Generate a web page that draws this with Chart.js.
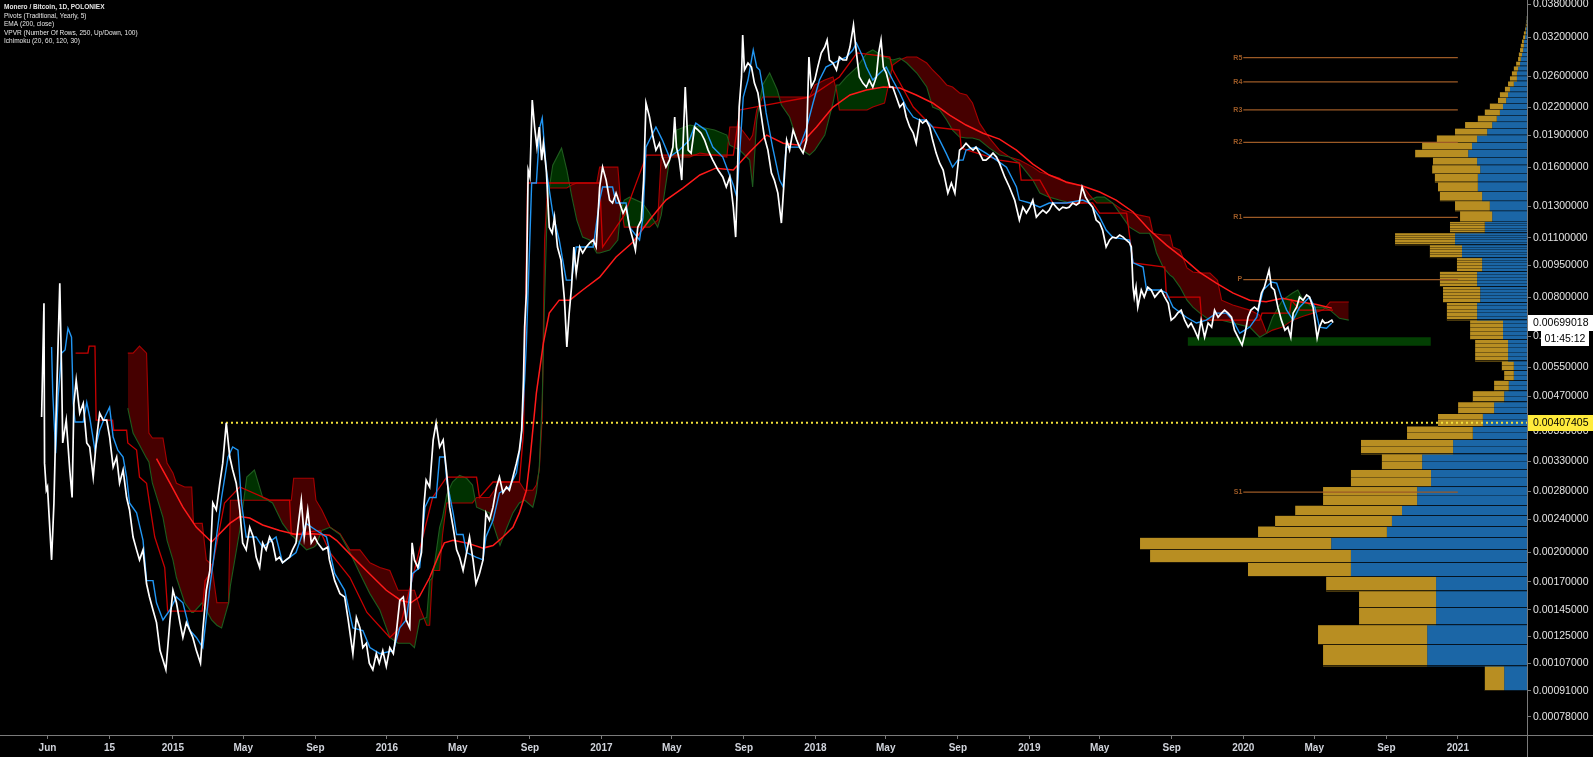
<!DOCTYPE html>
<html><head><meta charset="utf-8">
<script src="https://cdn.jsdelivr.net/npm/chart.js@4/dist/chart.umd.min.js"></script>
<style>html,body{margin:0;padding:0;background:#000;overflow:hidden}canvas{display:block}</style>
</head><body>
<canvas id="c" width="1593" height="757"></canvas>
<script>
// ---------- DATA ----------
const xMin = '2014-03-12', xMax = '2021-04-29';
const xTickDates = ['2014-06-01','2014-09-15','2015-01-01','2015-05-01','2015-09-01','2016-01-01','2016-05-01','2016-09-01','2017-01-01','2017-05-01','2017-09-01','2018-01-01','2018-05-01','2018-09-01','2019-01-01','2019-05-01','2019-09-01','2020-01-01','2020-05-01','2020-09-01','2021-01-01'];
const xTickLabels = ['Jun','15','2015','May','Sep','2016','May','Sep','2017','May','Sep','2018','May','Sep','2019','May','Sep','2020','May','Sep','2021'];
const yTicks = [0.038,0.032,0.026,0.022,0.019,0.016,0.013,0.011,0.0095,0.008,0.0065,0.0055,0.0047,0.0039,0.0033,0.0028,0.0024,0.002,0.0017,0.00145,0.00125,0.00107,0.00091,0.00078];

const closeData = [
['2014-05-22',.00420],['2014-05-26',.00775],['2014-05-27',.00327],['2014-05-30',.00282],['2014-06-01',.00287],['2014-06-08',.00192],['2014-06-12',.00263],['2014-06-15',.00391],['2014-06-22',.00863],['2014-06-25',.00541],['2014-06-27',.00365],['2014-07-03',.00413],['2014-07-09',.00315],['2014-07-13',.00271],['2014-07-16',.00452],['2014-07-20',.00513],['2014-07-26',.00429],['2014-08-01',.00452],['2014-08-07',.00365],['2014-08-12',.00357],['2014-08-18',.00303],['2014-08-24',.00377],['2014-08-29',.00429],['2014-09-04',.00413],['2014-09-10',.00413],['2014-09-15',.00377],['2014-09-21',.00320],['2014-09-27',.00338],['2014-10-02',.00293],['2014-10-08',.00315],['2014-10-14',.00271],['2014-10-19',.00253],['2014-10-25',.00218],['2014-10-31',.00203],['2014-11-05',.00192],['2014-11-11',.00203],['2014-11-17',.00168],['2014-11-22',.00156],['2014-11-28',.00145],['2014-12-04',.00135],['2014-12-10',.00115],['2014-12-15',.00109],['2014-12-20',.00103],['2014-12-27',.00137],
['2015-01-01',.00162],['2015-01-07',.00151],['2015-01-13',.00135],['2015-01-18',.00124],['2015-01-24',.00135],['2015-01-30',.00129],['2015-02-04',.00124],['2015-02-10',.00115],['2015-02-17',.00107],['2015-02-21',.00129],['2015-02-27',.00162],['2015-03-05',.00181],['2015-03-10',.00263],['2015-03-16',.00253],['2015-03-22',.00293],['2015-03-27',.00327],['2015-04-02',.00407],['2015-04-08',.00338],['2015-04-13',.00315],['2015-04-19',.00293],['2015-04-25',.00253],['2015-04-30',.00211],['2015-05-06',.00203],['2015-05-12',.00230],['2015-05-18',.00218],['2015-05-23',.00195],['2015-05-29',.00184],['2015-06-03',.00211],['2015-06-09',.00203],['2015-06-15',.00218],['2015-06-20',.00211],['2015-06-26',.00192],['2015-07-02',.00195],['2015-07-07',.00189],['2015-07-13',.00192],['2015-07-19',.00195],['2015-07-24',.00203],['2015-07-30',.00211],['2015-08-08',.00267],['2015-08-13',.00218],['2015-08-19',.00253],['2015-08-25',.00211],['2015-08-31',.00218],['2015-09-05',.00211],['2015-09-14',.00203],['2015-09-22',.00206],['2015-09-25',.00192],['2015-10-04',.00171],['2015-10-13',.00159],['2015-10-21',.00156],['2015-10-27',.00137],['2015-11-04',.00113],['2015-11-10',.00139],['2015-11-16',.00131],['2015-11-21',.00117],['2015-11-27',.00120],['2015-12-02',.00107],['2015-12-08',.00103],['2015-12-14',.00113],['2015-12-19',.00107],['2015-12-25',.00115],['2015-12-31',.00105],
['2016-01-06',.00117],['2016-01-12',.00113],['2016-01-17',.00127],['2016-01-23',.00153],['2016-01-29',.00156],['2016-02-03',.00137],['2016-02-09',.00131],['2016-02-13',.00211],['2016-02-17',.00192],['2016-02-23',.00184],['2016-02-29',.00200],['2016-03-04',.00257],['2016-03-08',.00298],['2016-03-14',.00287],['2016-03-20',.00371],['2016-03-25',.00407],['2016-03-31',.00357],['2016-04-06',.00371],['2016-04-12',.00310],['2016-04-17',.00257],['2016-04-23',.00230],['2016-04-29',.00203],['2016-05-04',.00195],['2016-05-10',.00181],['2016-05-16',.00200],['2016-05-21',.00218],['2016-05-27',.00192],['2016-06-01',.00168],['2016-06-07',.00178],['2016-06-13',.00192],['2016-06-18',.00249],['2016-06-24',.00239],['2016-06-30',.00257],['2016-07-06',.00287],['2016-07-11',.00303],['2016-07-17',.00278],['2016-07-23',.00287],['2016-07-28',.00282],['2016-08-03',.00303],['2016-08-09',.00327],['2016-08-14',.00351],['2016-08-18',.00391],['2016-08-21',.00513],['2016-08-23',.00682],['2016-08-26',.00819],['2016-08-29',.01578],['2016-09-01',.01521],['2016-09-05',.02290],['2016-09-09',.01984],['2016-09-13',.01783],['2016-09-17',.01984],['2016-09-21',.01664],['2016-09-24',.01820],['2016-09-29',.01578],['2016-10-04',.01164],['2016-10-09',.01127],['2016-10-13',.01228],['2016-10-18',.01047],['2016-10-24',.00977],['2016-10-30',.00788],['2016-11-03',.00613],['2016-11-07',.00735],['2016-11-11',.00845],['2016-11-15',.01047],['2016-11-19',.00911],['2016-11-25',.01047],['2016-11-30',.01014],['2016-12-06',.01047],['2016-12-12',.01070],['2016-12-18',.01087],['2016-12-23',.01047],['2016-12-29',.01442],
['2017-01-03',.01603],['2017-01-09',.01496],['2017-01-15',.01345],['2017-01-20',.01324],['2017-01-26',.01396],['2017-02-01',.01324],['2017-02-07',.01255],['2017-02-12',.01295],['2017-02-18',.01164],['2017-02-24',.01087],['2017-02-28',.01030],['2017-03-04',.01164],['2017-03-10',.01209],['2017-03-14',.01496],['2017-03-18',.02254],['2017-03-24',.02092],['2017-03-30',.01881],['2017-04-04',.01755],['2017-04-10',.01820],['2017-04-15',.01691],['2017-04-21',.01603],['2017-04-27',.01664],['2017-05-03',.01783],['2017-05-06',.02092],['2017-05-09',.01783],['2017-05-14',.01664],['2017-05-18',.01496],['2017-05-24',.02454],['2017-05-29',.01755],['2017-06-03',.01727],['2017-06-09',.01984],['2017-06-15',.01952],['2017-06-20',.01920],['2017-06-26',.01851],['2017-07-02',.01755],['2017-07-10',.01664],['2017-07-19',.01578],['2017-07-27',.01521],['2017-08-02',.01442],['2017-08-08',.01521],['2017-08-14',.01295],['2017-08-18',.01104],['2017-08-20',.01345],['2017-08-24',.02206],['2017-08-28',.02589],['2017-08-30',.03232],['2017-09-02',.02686],['2017-09-08',.02787],['2017-09-14',.02728],['2017-09-19',.02506],['2017-09-25',.02377],['2017-09-30',.02138],['2017-10-06',.01881],['2017-10-12',.01755],['2017-10-18',.01554],['2017-10-23',.01496],['2017-10-29',.01396],['2017-11-04',.01190],['2017-11-08',.01442],['2017-11-13',.01851],['2017-11-18',.01755],['2017-11-24',.01952],['2017-11-30',.01851],['2017-12-05',.01783],['2017-12-11',.01727],['2017-12-17',.01851],['2017-12-21',.02877],['2017-12-25',.02454],['2017-12-31',.02547],
['2018-01-05',.02728],['2018-01-11',.02940],['2018-01-17',.03034],['2018-01-21',.03149],['2018-01-25',.02832],['2018-01-31',.02787],['2018-02-06',.02686],['2018-02-11',.02877],['2018-02-17',.02832],['2018-02-23',.02832],['2018-03-01',.03034],['2018-03-07',.03410],['2018-03-12',.02940],['2018-03-17',.02589],['2018-03-23',.02506],['2018-03-29',.02454],['2018-04-03',.02547],['2018-04-09',.02454],['2018-04-15',.02589],['2018-04-19',.02940],['2018-04-23',.03149],['2018-04-27',.02728],['2018-05-02',.02643],['2018-05-08',.02454],['2018-05-13',.02454],['2018-05-19',.02327],['2018-05-25',.02206],['2018-05-31',.02254],['2018-06-05',.02092],['2018-06-11',.01984],['2018-06-17',.01920],['2018-06-22',.01820],['2018-06-28',.02059],['2018-07-03',.02025],['2018-07-09',.02059],['2018-07-15',.01984],['2018-07-20',.01851],['2018-07-26',.01727],['2018-08-01',.01637],['2018-08-07',.01578],['2018-08-15',.01396],['2018-08-21',.01473],['2018-08-27',.01396],['2018-08-30',.01521],['2018-09-04',.01755],['2018-09-10',.01783],['2018-09-15',.01820],['2018-09-21',.01783],['2018-09-27',.01755],['2018-10-02',.01783],['2018-10-08',.01727],['2018-10-14',.01664],['2018-10-19',.01664],['2018-10-25',.01691],['2018-10-31',.01727],['2018-11-06',.01691],['2018-11-11',.01637],['2018-11-20',.01521],['2018-11-28',.01442],['2018-12-07',.01345],['2018-12-15',.01209],['2018-12-21',.01295],['2018-12-27',.01255],
['2019-01-02',.01295],['2019-01-07',.01345],['2019-01-13',.01228],['2019-01-19',.01255],['2019-01-24',.01275],['2019-01-30',.01255],['2019-02-04',.01275],['2019-02-10',.01324],['2019-02-16',.01295],['2019-02-21',.01275],['2019-02-27',.01295],['2019-03-05',.01288],['2019-03-10',.01295],['2019-03-16',.01324],['2019-03-22',.01310],['2019-03-27',.01324],['2019-04-01',.01442],['2019-04-07',.01366],['2019-04-13',.01324],['2019-04-19',.01295],['2019-04-25',.01209],['2019-05-01',.01190],['2019-05-06',.01146],['2019-05-12',.01047],['2019-05-18',.01087],['2019-05-23',.01104],['2019-05-29',.01098],['2019-06-04',.01116],['2019-06-10',.01104],['2019-06-15',.01087],['2019-06-21',.01070],['2019-06-24',.01047],['2019-06-27',.00845],['2019-06-29',.00801],['2019-07-02',.00845],['2019-07-05',.00759],['2019-07-11',.00832],['2019-07-16',.00801],['2019-07-22',.00845],['2019-07-28',.00832],['2019-08-03',.00801],['2019-08-09',.00819],['2019-08-14',.00832],['2019-08-20',.00801],['2019-08-26',.00775],['2019-08-31',.00708],['2019-09-06',.00719],['2019-09-11',.00735],['2019-09-17',.00747],['2019-09-23',.00708],['2019-09-29',.00682],['2019-10-04',.00697],['2019-10-10',.00671],['2019-10-16',.00643],['2019-10-21',.00708],['2019-10-27',.00646],['2019-11-02',.00697],['2019-11-08',.00682],['2019-11-13',.00747],['2019-11-19',.00719],['2019-11-25',.00735],['2019-11-30',.00747],['2019-12-06',.00735],['2019-12-12',.00719],['2019-12-17',.00671],['2019-12-23',.00646],['2019-12-30',.00619],
['2020-01-04',.00660],['2020-01-09',.00719],['2020-01-14',.00747],['2020-01-20',.00759],['2020-01-26',.00747],['2020-02-01',.00819],['2020-02-06',.00845],['2020-02-14',.00926],['2020-02-18',.00845],['2020-02-23',.00832],['2020-02-29',.00759],['2020-03-06',.00708],['2020-03-12',.00671],['2020-03-17',.00682],['2020-03-22',.00646],['2020-03-26',.00735],['2020-04-01',.00759],['2020-04-06',.00801],['2020-04-12',.00788],['2020-04-18',.00810],['2020-04-23',.00801],['2020-04-29',.00759],['2020-05-02',.00708],['2020-05-06',.00643],['2020-05-10',.00682],['2020-05-15',.00708],['2020-05-19',.00697],['2020-05-25',.00700],['2020-05-31',.00708],['2020-06-02',.00699018]
];

const conversionData = [
['2014-06-08',.00613],['2014-06-10',.00478],['2014-06-15',.00345],['2014-06-19',.00467],['2014-06-25',.00593],['2014-07-01',.00603],['2014-07-06',.00678],['2014-07-12',.00646],['2014-07-15',.00452],['2014-07-18',.00409],['2014-08-01',.00409],['2014-08-07',.00455],['2014-08-12',.00420],['2014-08-21',.00351],['2014-08-29',.00391],['2014-09-07',.00420],['2014-09-15',.00443],['2014-09-21',.00377],['2014-09-29',.00351],['2014-10-08',.00338],['2014-10-14',.00303],['2014-10-19',.00263],['2014-10-31',.00249],['2014-11-11',.00214],['2014-11-17',.00171],['2014-11-28',.00171],['2014-12-04',.00151],['2014-12-15',.00137],['2014-12-27',.00145],['2015-01-07',.00156],['2015-01-18',.00151],['2015-01-30',.00129],['2015-02-10',.00124],['2015-02-21',.00117],['2015-03-05',.00165],['2015-03-14',.00206],['2015-03-25',.00271],['2015-04-05',.00338],['2015-04-13',.00357],['2015-04-22',.00351],['2015-04-28',.00263],['2015-05-06',.00218],['2015-05-23',.00218],['2015-06-03',.00206],['2015-06-26',.00218],['2015-07-07',.00189],['2015-07-30',.00200],['2015-08-16',.00235],['2015-09-03',.00226],['2015-09-20',.00218],['2015-10-04',.00178],['2015-10-21',.00162],['2015-11-04',.00131],['2015-11-21',.00129],['2015-12-03',.00117],['2015-12-20',.00113],['2016-01-12',.00115],['2016-01-23',.00131],['2016-02-03',.00137],['2016-02-14',.00178],['2016-02-26',.00184],['2016-03-06',.00257],['2016-03-14',.00271],['2016-03-25',.00271],['2016-03-31',.00338],['2016-04-09',.00338],['2016-04-12',.00298],['2016-04-23',.00249],['2016-04-29',.00221],['2016-05-10',.00221],['2016-05-16',.00200],['2016-06-01',.00195],['2016-06-13',.00192],['2016-06-18',.00218],['2016-06-30',.00239],['2016-07-11',.00278],['2016-07-28',.00287],['2016-08-09',.00310],['2016-08-17',.00371],['2016-08-23',.00513],['2016-08-26',.00626],['2016-09-01',.01104],['2016-09-04',.01473],['2016-09-12',.01473],['2016-09-18',.01984],['2016-09-22',.02081],['2016-09-29',.01578],['2016-10-10',.01255],['2016-10-21',.01087],['2016-11-02',.00877],['2016-11-11',.00877],['2016-11-19',.01047],['2016-12-18',.01047],['2016-12-29',.01345],['2017-01-03',.01442],['2017-01-20',.01442],['2017-01-26',.01324],['2017-02-12',.01324],['2017-02-18',.01164],['2017-03-07',.01087],['2017-03-13',.01228],['2017-03-18',.01783],['2017-04-04',.01984],['2017-04-15',.01851],['2017-04-27',.01691],['2017-05-14',.01755],['2017-05-31',.01851],['2017-06-11',.02025],['2017-06-28',.01952],['2017-07-10',.01783],['2017-07-27',.01691],['2017-08-14',.01457],['2017-08-20',.01366],['2017-08-31',.02327],['2017-09-08',.02547],['2017-09-17',.02987],['2017-09-23',.02728],['2017-09-28',.02686],['2017-10-03',.02454],['2017-10-09',.02138],['2017-10-20',.01783],['2017-11-01',.01496],['2017-11-07',.01442],['2017-11-12',.01783],['2017-12-05',.01783],['2017-12-16',.01952],['2017-12-28',.02254],['2018-01-08',.02547],['2018-01-19',.02728],['2018-02-11',.02832],['2018-02-23',.02877],['2018-03-06',.02987],['2018-03-12',.03099],['2018-03-23',.02877],['2018-03-29',.02728],['2018-04-09',.02547],['2018-04-21',.02643],['2018-05-02',.02728],['2018-05-13',.02547],['2018-05-25',.02377],['2018-06-05',.02206],['2018-06-17',.02092],['2018-06-28',.02059],['2018-07-09',.02059],['2018-07-20',.01984],['2018-08-01',.01851],['2018-08-12',.01727],['2018-08-23',.01603],['2018-09-01',.01664],['2018-09-10',.01664],['2018-09-15',.01755],['2018-10-02',.01783],['2018-10-19',.01727],['2018-11-06',.01664],['2018-11-23',.01603],['2018-12-10',.01442],['2018-12-15',.01345],['2019-01-02',.01324],['2019-01-19',.01295],['2019-02-04',.01324],['2019-03-05',.01324],['2019-04-02',.01345],['2019-04-14',.01324],['2019-05-01',.01228],['2019-05-12',.01146],['2019-05-23',.01104],['2019-06-21',.01087],['2019-06-27',.00962],['2019-07-14',.00941],['2019-07-20',.00832],['2019-08-12',.00832],['2019-08-23',.00819],['2019-09-03',.00759],['2019-09-26',.00719],['2019-10-13',.00697],['2019-10-30',.00708],['2019-11-16',.00735],['2019-12-03',.00735],['2019-12-14',.00708],['2019-12-26',.00660],['2020-01-12',.00682],['2020-01-24',.00719],['2020-02-04',.00832],['2020-02-18',.00868],['2020-02-27',.00863],['2020-03-06',.00801],['2020-03-15',.00747],['2020-03-26',.00708],['2020-04-06',.00759],['2020-04-23',.00801],['2020-05-02',.00759],['2020-05-10',.00682],['2020-05-22',.00678],['2020-05-31',.00697]
];

const baseData = [
['2014-07-19',.00593],['2014-08-09',.00593],['2014-08-11',.00616],['2014-08-21',.00616],['2014-08-23',.00413],['2014-09-20',.00413],['2014-09-22',.00391],['2014-10-14',.00391],['2014-10-16',.00365],['2014-10-31',.00351],['2014-11-05',.00303],['2014-11-17',.00293],['2014-11-22',.00263],['2014-12-01',.00218],['2014-12-18',.00184],['2014-12-23',.00144],['2015-02-20',.00144],['2015-02-25',.00171],['2015-03-08',.00181],['2015-03-30',.00263],['2015-04-25',.00287],['2015-06-15',.00267],['2015-07-19',.00267],['2015-07-22',.00221],['2015-09-09',.00226],['2015-09-26',.00200],['2015-10-30',.00174],['2015-11-28',.00143],['2016-01-06',.00124],['2016-01-23',.00131],['2016-02-14',.00174],['2016-03-05',.00226],['2016-03-19',.00271],['2016-04-12',.00303],['2016-06-02',.00303],['2016-06-07',.00271],['2016-06-30',.00295],['2016-08-14',.00295],['2016-08-21',.00385],['2016-08-28',.01473],['2016-12-29',.01473],['2017-01-03',.01047],['2017-02-09',.01241],['2017-03-19',.01709],['2017-08-14',.01709],['2017-08-25',.02172],['2017-12-22',.02327],['2018-02-11',.02589],['2018-03-13',.02940],['2018-05-08',.02877],['2018-05-13',.02686],['2018-06-17',.02206],['2018-07-20',.01984],['2018-09-04',.01952],['2018-09-07',.01773],['2018-11-11',.01664],['2018-12-15',.01637],['2018-12-18',.01496],['2019-01-19',.01496],['2019-02-10',.01324],['2019-04-19',.01324],['2019-05-01',.01255],['2019-06-16',.01255],['2019-06-27',.00962],['2019-08-20',.00941],['2019-08-23',.00801],['2019-10-19',.00801],['2019-10-22',.00708],['2020-01-29',.00708],['2020-02-02',.00735],['2020-03-20',.00735],['2020-03-23',.00788],['2020-04-06',.00747],['2020-06-02',.00747]
];

const emaData = [
['2014-12-04',.00335],['2014-12-27',.00293],['2015-01-18',.00257],['2015-02-10',.00230],['2015-03-08',.00212],['2015-04-08',.00235],['2015-04-25',.00244],['2015-05-12',.00242],['2015-06-03',.00233],['2015-07-02',.00226],['2015-07-30',.00221],['2015-08-28',.00222],['2015-09-25',.00220],['2015-10-07',.00214],['2015-11-04',.00195],['2015-12-02',.00178],['2015-12-31',.00162],['2016-01-25',.00153],['2016-02-11',.00151],['2016-02-25',.00156],['2016-03-14',.00174],['2016-03-28',.00195],['2016-04-08',.00211],['2016-04-23',.00214],['2016-05-16',.00211],['2016-06-13',.00205],['2016-06-30',.00208],['2016-07-17',.00218],['2016-08-03',.00230],['2016-08-14',.00249],['2016-08-26',.00282],['2016-09-01',.00332],['2016-09-12',.00478],['2016-09-24',.00626],['2016-10-04',.00735],['2016-10-21',.00788],['2016-11-08',.00788],['2016-11-30',.00832],['2016-12-29',.00891],['2017-01-26',.00993],['2017-02-24',.01075],['2017-03-24',.01209],['2017-04-21',.01345],['2017-05-20',.01434],['2017-06-18',.01537],['2017-07-15',.01594],['2017-08-14',.01578],['2017-09-11',.01737],['2017-10-10',.01901],['2017-11-07',.01820],['2017-12-05',.01801],['2018-01-03',.01984],['2018-01-31',.02206],['2018-03-01',.02352],['2018-03-29',.02415],['2018-04-27',.02454],['2018-05-25',.02441],['2018-06-22',.02352],['2018-07-20',.02254],['2018-08-18',.02114],['2018-09-15',.02005],['2018-10-14',.01920],['2018-11-11',.01861],['2018-12-10',.01755],['2019-01-07',.01629],['2019-02-04',.01537],['2019-03-05',.01481],['2019-04-02',.01450],['2019-05-01',.01404],['2019-05-29',.01345],['2019-06-27',.01262],['2019-07-25',.01146],['2019-08-23',.01058],['2019-09-20',.00988],['2019-10-18',.00916],['2019-11-16',.00863],['2019-12-14',.00819],['2020-01-12',.00788],['2020-02-09',.00781],['2020-03-08',.00796],['2020-04-06',.00781],['2020-05-05',.00770],['2020-05-31',.00755]
];

// [date, leading span A, leading span B]
const cloudData = [
['2014-10-16',.00441,.00593],['2014-10-25',.00385,.00593],['2014-11-05',.00361,.00616],['2014-11-17',.00336,.00593],['2014-11-21',.00329,.00385],['2014-11-27',.00293,.00375],['2014-12-15',.00243,.00375],['2014-12-22',.00214,.00327],['2015-01-01',.00192,.00310],['2015-01-07',.00174,.00293],['2015-01-21',.00151,.00287],['2015-02-02',.00143,.00287],['2015-02-05',.00143,.00235],['2015-02-20',.00151,.00235],['2015-02-27',.00145,.00192],['2015-03-08',.00137,.00187],['2015-03-17',.00133,.00151],['2015-03-25',.00131,.00151],['2015-04-06',.00151,.00151],['2015-04-09',.00166,.00267],['2015-04-25',.00226,.00267],['2015-05-07',.00303,.00267],['2015-05-20',.00315,.00267],['2015-06-03',.00271,.00267],['2015-06-20',.00263,.00267],['2015-07-07',.00235,.00267],['2015-07-22',.00220,.00267],['2015-07-26',.00218,.00301],['2015-08-17',.00203,.00301],['2015-08-29',.00206,.00301],['2015-09-02',.00208,.00267],['2015-09-12',.00226,.00253],['2015-09-26',.00230,.00230],['2015-10-13',.00221,.00222],['2015-10-30',.00200,.00203],['2015-11-16',.00178,.00203],['2015-12-03',.00159,.00189],['2015-12-20',.00145,.00184],['2016-01-06',.00124,.00181],['2016-01-20',.00120,.00162],['2016-02-09',.00120,.00162],['2016-02-17',.00117,.00162],['2016-02-26',.00137,.00147],['2016-03-09',.00139,.00133],['2016-03-14',.00171,.00133],['2016-03-19',.00174,.00181],['2016-03-31',.00230,.00181],['2016-04-05',.00243,.00221],['2016-04-12',.00275,.00263],['2016-04-22',.00295,.00263],['2016-05-04',.00306,.00263],['2016-05-16',.00301,.00263],['2016-05-26',.00290,.00263],['2016-06-02',.00257,.00271],['2016-06-24',.00249,.00271],['2016-07-12',.00208,.00295],['2016-07-24',.00230,.00295],['2016-08-03',.00249,.00295],['2016-08-14',.00263,.00295],['2016-08-23',.00267,.00282],['2016-09-06',.00257,.00282],['2016-09-12',.00278,.00290],['2016-09-17',.00320,.00315],['2016-09-22',.00460,.00420],['2016-09-26',.00788,.01087],['2016-10-01',.01345,.01434],['2016-10-10',.01620,.01434],['2016-10-25',.01773,.01434],['2016-11-03',.01578,.01434],['2016-11-11',.01381,.01457],['2016-11-20',.01209,.01473],['2016-11-30',.01104,.01473],['2016-12-12',.01087,.01473],['2016-12-24',.01014,.01473],['2016-12-29',.01014,.01603],['2017-01-15',.01030,.01603],['2017-01-29',.01087,.01603],['2017-02-03',.01275,.01324],['2017-02-09',.01345,.01164],['2017-02-18',.01366,.01164],['2017-03-12',.01324,.01164],['2017-03-24',.01255,.01164],['2017-04-07',.01164,.01209],['2017-04-13',.01241,.01691],['2017-04-27',.01664,.01691],['2017-05-09',.01952,.01691],['2017-06-01',.02005,.01691],['2017-06-18',.01984,.01727],['2017-07-13',.01952,.01709],['2017-08-03',.01901,.01691],['2017-08-08',.01801,.01984],['2017-08-25',.01755,.01984],['2017-09-11',.01664,.01851],['2017-09-16',.01442,.01901],['2017-09-23',.02059,.02172],['2017-10-03',.02481,.02327],['2017-10-15',.02643,.02327],['2017-10-28',.02415,.02327],['2017-11-04',.02231,.02327],['2017-11-18',.02092,.02327],['2017-12-05',.01773,.02327],['2017-12-22',.01709,.02327],['2017-12-31',.01755,.02481],['2018-01-17',.01901,.02547],['2018-01-31',.02254,.02589],['2018-02-06',.02481,.02415],['2018-02-11',.02481,.02172],['2018-02-23',.02589,.02172],['2018-03-13',.02728,.02172],['2018-03-30',.02940,.02172],['2018-04-09',.02987,.02206],['2018-04-29',.02877,.02254],['2018-05-13',.02832,.02757],['2018-05-25',.02862,.02832],['2018-06-06',.02787,.02877],['2018-06-23',.02643,.02877],['2018-07-10',.02454,.02787],['2018-07-20',.02206,.02686],['2018-08-01',.02172,.02589],['2018-08-13',.02059,.02481],['2018-08-23',.01952,.02454],['2018-09-04',.01881,.02377],['2018-09-16',.01871,.02352],['2018-09-26',.01871,.02254],['2018-10-08',.01851,.02025],['2018-10-25',.01773,.01871],['2018-11-11',.01709,.01755],['2018-11-28',.01691,.01691],['2018-12-15',.01637,.01664],['2019-01-07',.01496,.01603],['2019-01-19',.01396,.01562],['2019-02-04',.01366,.01537],['2019-02-21',.01345,.01513],['2019-03-06',.01331,.01473],['2019-04-02',.01324,.01450],['2019-04-14',.01345,.01381],['2019-04-26',.01366,.01324],['2019-05-09',.01366,.01324],['2019-05-23',.01324,.01324],['2019-06-09',.01228,.01275],['2019-06-21',.01164,.01262],['2019-07-08',.01127,.01241],['2019-07-25',.01127,.01228],['2019-07-31',.01087,.01127],['2019-08-06',.01014,.01122],['2019-08-17',.00941,.01116],['2019-08-29',.00901,.01116],['2019-09-03',.00891,.01047],['2019-09-15',.00845,.01030],['2019-09-27',.00788,.00936],['2019-10-07',.00759,.00916],['2019-10-19',.00735,.00911],['2019-11-05',.00708,.00911],['2019-11-18',.00708,.00877],['2019-11-25',.00708,.00788],['2019-12-14',.00697,.00768],['2020-01-12',.00682,.00747],['2020-01-29',.00646,.00727],['2020-02-10',.00660,.00660],['2020-02-20',.00719,.00671],['2020-03-08',.00788,.00682],['2020-03-25',.00819,.00708],['2020-04-03',.00832,.00715],['2020-04-12',.00788,.00723],['2020-04-29',.00759,.00735],['2020-05-16',.00759,.00747],['2020-05-28',.00747,.00780],['2020-06-13',.00715,.00780],['2020-06-29',.00708,.00780]
];

// Yearly traditional pivots (2020)
const pivotNames = ['R5','R4','R3','R2','R1','P','S1'];
const pivotLevels = [0.02869,0.02522,0.02174,0.01828,0.01227,0.00880,0.00279];
const pivotStart = '2020-01-01', pivotEnd = '2021-01-01';

const hLineLevel = 0.00407405, hLineStart = '2015-03-24';
const lastPrice = 0.00699018, countdown = '01:45:12';
const supportZone = {from:'2019-09-28', to:'2020-11-16', top:0.00646, bottom:0.00617};

// VPVR rows: row i spans vpEdges[i]..vpEdges[i+1]; volumes in % of POC
const vpRowStep = 0.00014;  // native row height of the profile (250 rows)
const vpEdges = [0.00091,0.00105,0.00119,0.00133,0.00147,0.00161,0.00175,0.00189,0.00203,0.00217,0.00231,0.00245,0.00259,0.00287,0.00315,0.00343,0.00371,0.00399,0.00427,0.00455,0.00483,0.00511,0.00539,0.00567,0.00637,0.00707,0.00777,0.00847,0.00917,0.00987,0.01057,0.01127,0.01197,0.01267,0.01337,0.01407,0.01477,0.01547,0.01617,0.01687,0.01757,0.01827,0.01897,0.01967,0.02037,0.02107,0.02177,0.02247,0.02317,0.02387,0.02457,0.02527,0.02597,0.02667,0.02737,0.02807,0.02877,0.02947,0.03017,0.03087,0.03157,0.03227,0.03297,0.03367,0.03437,0.03507,0.03577];
const vpUp = [5.9,25.8,25.8,23.5,23.5,23.5,45.5,45.5,50.6,36.2,34.9,32.3, 28.4,24.8,27.1,19.1,14,11.4,8.5,5.9,4.7,3.4,3.4, 4.9,6.2,12.9,12.1,12.9,11.6,16.8,18.6,10.9,9.0,9.6,11.6,12.7,12.7,12.1,12.9,15.2,14.2,12.9,10.3,9.0,7.8,7.0,6.2,5.4,4.9,4.4,3.4,2.6,2.6,2.3,1.8,1.6,1.3,1.0,0.8,0.8,0.5,0.3,0.3,0.1,0.1,0.05];
const vpDown = [5.0,26.9,28.2,19.9,19.9,28.4,26.6,51.9,49.4,33.3,30.2,27.6, 24.3,20.7,10.4,23.8,17,11.6,9.3,8.1,3.8,2.5,3.1, 8.5,8.5,7.8,9.6,9.6,6.5,8.3,15.5,9.0,8.3,9.0,10.9,10.3,11.1,12.4,11.4,13.7,12.9,10.4,8.3,7.0,4.9,3.9,3.4,2.1,2.1,1.3,1.5,1.8,1.3,1.1,1.0,0.7,0.8,0.8,0.8,0.5,0.5,0.5,0.2,0.2,0.1,0.05];

const legendLines = ['Monero / Bitcoin, 1D, POLONIEX','Pivots (Traditional, Yearly, 5)','EMA (200, close)','VPVR (Number Of Rows, 250, Up/Down, 100)','Ichimoku (20, 60, 120, 30)'];

// ---------- CUSTOM PRICE SCALE (TradingView-like log: ln(p + c)) ----------
class TVLogScale extends Chart.LinearScale {
  configure() {
    super.configure();
    const c = this.options.offsetC || 0.0001;
    this._c = c;
    this._tStart = Math.log(this.min + c);
    this._tRange = Math.log(this.max + c) - this._tStart;
  }
  getPixelForValue(value) {
    if (value === null || value === undefined || isNaN(value)) return NaN;
    return this.getPixelForDecimal((Math.log(value + this._c) - this._tStart) / this._tRange);
  }
  getValueForPixel(pixel) {
    const d = this.getDecimalForPixel(pixel);
    return Math.exp(this._tStart + d * this._tRange) - this._c;
  }
}
TVLogScale.id = 'tvlog';
TVLogScale.defaults = Chart.LinearScale.defaults;
Chart.register(TVLogScale);

// ---------- BUILD ----------
const ts = d => Date.parse(d);
const pts = arr => arr.map(r => ({x: ts(r[0]), y: r[1]}));
const lineDs = (label, data, color, width, extra) => Object.assign({label, data, borderColor: color, borderWidth: width, pointRadius: 0, tension: 0, fill: false}, extra || {});

const datasets = [
  lineDs('Close', pts(closeData), '#ffffff', 1.7),
  lineDs('Conversion', pts(conversionData), '#2196f3', 1.4),
  lineDs('EMA 200', pts(emaData), '#ff1a1a', 1.5),
  lineDs('Base', pts(baseData), '#c80000', 1.3),
  lineDs('Span A', cloudData.map(r => ({x: ts(r[0]), y: r[1]})), '#1e5c1e', 1.1),
  lineDs('Span B', cloudData.map(r => ({x: ts(r[0]), y: r[2]})), '#a80000', 1.1,
    {fill: {target: 4, above: 'rgba(74,0,0,0.95)', below: 'rgba(0,52,0,0.95)'}}),
];
pivotLevels.forEach((lv, i) => {
  datasets.push(lineDs(pivotNames[i], [{x: ts(pivotStart), y: lv}, {x: ts(pivotEnd), y: lv}], '#9c5a26', 1.2));
});
datasets.push(lineDs('Level', [{x: ts(hLineStart), y: hLineLevel}, {x: ts(xMax), y: hLineLevel}], '#f5e33a', 2, {borderDash: [2, 3]}));
const boxTopIdx = datasets.length;
datasets.push(lineDs('Zone top', [{x: ts(supportZone.from), y: supportZone.top}, {x: ts(supportZone.to), y: supportZone.top}], 'rgba(0,0,0,0)', 0,
  {fill: {target: boxTopIdx + 1, above: '#033f03', below: '#033f03'}}));
datasets.push(lineDs('Zone bottom', [{x: ts(supportZone.from), y: supportZone.bottom}, {x: ts(supportZone.to), y: supportZone.bottom}], 'rgba(0,0,0,0)', 0));

const axisFontY = {family: '"Liberation Sans", Arial, sans-serif', size: 10.5};
const axisFontX = {family: '"Liberation Sans", Arial, sans-serif', size: 10, weight: 'bold'};

const bgPlugin = {
  id: 'bg',
  beforeDraw(chart) {
    const c = chart.ctx; c.save(); c.fillStyle = '#000'; c.fillRect(0, 0, chart.width, chart.height); c.restore();
  }
};

const vpvrPlugin = {
  id: 'vpvr',
  beforeDatasetsDraw(chart) {
    const y = chart.scales.y, xv = chart.scales.xv, c = chart.ctx;
    c.save();
    const x0 = xv.getPixelForValue(0);
    for (let i = 0; i < vpUp.length; i++) {
      const yb = y.getPixelForValue(vpEdges[i]);
      const yt = y.getPixelForValue(vpEdges[i + 1]);
      const x1 = xv.getPixelForValue(vpUp[i]);
      const x2 = xv.getPixelForValue(vpUp[i] + vpDown[i]);
      c.fillStyle = '#1b66a6';
      c.fillRect(x1, yt, x0 - x1, yb - yt);
      c.fillStyle = '#b88e22';
      c.fillRect(x2, yt, x1 - x2, yb - yt);
      // native row separators inside the (merged) row
      const nSub = Math.round((vpEdges[i + 1] - vpEdges[i]) / vpRowStep);
      for (let k = 0; k < nSub; k++) {
        const p = vpEdges[i] + k * vpRowStep;
        const ly = y.getPixelForValue(p);
        const hStep = ly - y.getPixelForValue(p + vpRowStep);
        if (k === 0) {
          c.fillStyle = 'rgba(0,0,0,0.75)';
          c.fillRect(x2, Math.round(ly) - 1, x0 - x2, hStep > 2.2 ? 1 : 0.6);
        } else if (hStep > 2.2) {
          c.fillStyle = 'rgba(0,0,0,0.35)';
          c.fillRect(x2, Math.round(ly) - 1, x0 - x2, 1);
        }
      }
    }
    c.restore();
  }
};

const overlayPlugin = {
  id: 'overlay',
  afterDraw(chart) {
    const c = chart.ctx, x = chart.scales.x, y = chart.scales.y, a = chart.chartArea;
    c.save();
    // pivot labels
    c.font = 'bold 7px "Liberation Sans", Arial, sans-serif';
    c.fillStyle = '#9c5a26'; c.textAlign = 'right'; c.textBaseline = 'middle';
    pivotLevels.forEach((lv, i) => c.fillText(pivotNames[i], x.getPixelForValue(ts(pivotStart)) - 1, y.getPixelForValue(lv)));
    // legend (slightly condensed)
    c.textAlign = 'left'; c.textBaseline = 'middle'; c.fillStyle = '#e6e6e6';
    legendLines.forEach((t, i) => {
      c.save();
      c.translate(4, 0); c.scale(0.86, 1);
      c.font = (i === 0 ? 'bold ' : '') + '7.6px "Liberation Sans", Arial, sans-serif';
      c.fillText(t, 0, 7 + i * 8.5);
      c.restore();
    });
    // axis frame extensions
    c.strokeStyle = '#7a7a7a'; c.lineWidth = 1;
    c.beginPath(); c.moveTo(a.right + 0.5, a.bottom); c.lineTo(a.right + 0.5, chart.height); c.stroke();
    c.beginPath(); c.moveTo(a.right, a.bottom + 0.5); c.lineTo(chart.width, a.bottom + 0.5); c.stroke();
    // price labels on axis
    const box = (val, text, bg, fg) => {
      const py = Math.round(y.getPixelForValue(val));
      c.fillStyle = bg; c.fillRect(a.right + 1, py - 8, chart.width - a.right - 1, 16);
      c.fillStyle = fg; c.font = '10.5px "Liberation Sans", Arial, sans-serif'; c.textAlign = 'left'; c.textBaseline = 'middle';
      c.fillText(text, a.right + 6, py);
      return py;
    };
    box(hLineLevel, hLineLevel.toFixed(8), '#ffeb3b', '#000');
    const py = box(lastPrice, lastPrice.toFixed(8), '#ffffff', '#000');
    c.fillStyle = '#ffffff'; c.fillRect(a.right + 14, py + 8, 48, 15);
    c.fillStyle = '#000'; c.textAlign = 'center';
    c.fillText(countdown, a.right + 38, py + 16);
    c.restore();
  }
};

new Chart(document.getElementById('c'), {
  type: 'line',
  data: {datasets},
  options: {
    responsive: false, animation: false, devicePixelRatio: 1,
    layout: {padding: 0, autoPadding: false},
    plugins: {legend: {display: false}, tooltip: {enabled: false}},
    elements: {point: {radius: 0}},
    scales: {
      x: {
        type: 'linear', position: 'bottom', min: ts(xMin), max: ts(xMax),
        grid: {drawOnChartArea: false, drawTicks: true, tickLength: 4, color: '#7a7a7a'},
        border: {color: '#7a7a7a'},
        ticks: {autoSkip: false, maxRotation: 0, color: '#d1d4dc', font: axisFontX, padding: 3,
          callback: (v, i) => xTickLabels[i]},
        afterBuildTicks: s => { s.ticks = xTickDates.map(d => ({value: ts(d)})); },
        afterFit: s => { s.height = 22; s.paddingLeft = 0; s.paddingRight = 0; }
      },
      y: {
        type: 'tvlog', position: 'right', min: 0.0007, max: 0.03894, offsetC: 0.0001,
        grid: {drawOnChartArea: false, drawTicks: true, tickLength: 4, color: '#7a7a7a'},
        border: {color: '#7a7a7a'},
        ticks: {autoSkip: false, color: '#e3e3e3', font: axisFontY, padding: 2,
          callback: v => Number(v).toFixed(8)},
        afterBuildTicks: s => { s.ticks = yTicks.map(v => ({value: v})); },
        afterFit: s => { s.width = 66; s.paddingTop = 0; s.paddingBottom = 0; }
      },
      xv: {type: 'linear', display: false, min: 0, max: 394.6, reverse: true}
    }
  },
  plugins: [bgPlugin, vpvrPlugin, overlayPlugin]
});
</script>
</body></html>
